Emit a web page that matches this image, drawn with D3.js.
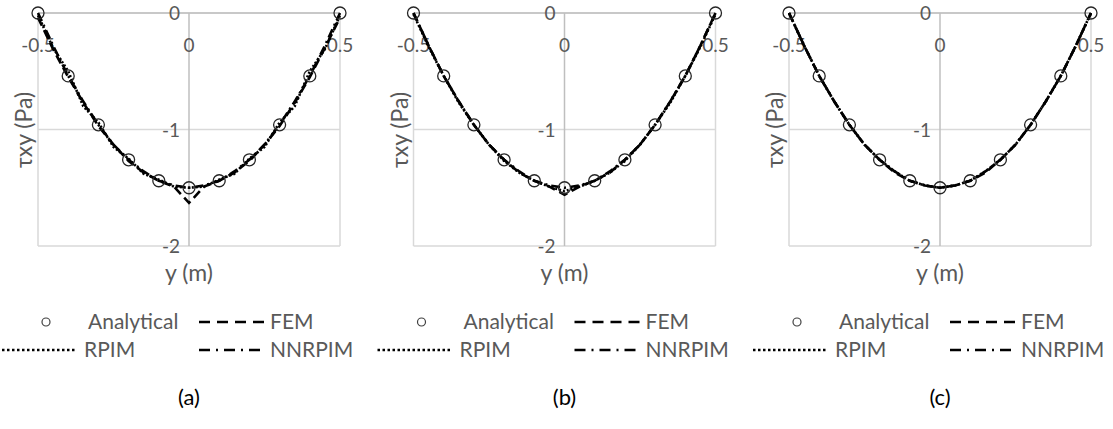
<!DOCTYPE html>
<html>
<head>
    <title>Shear stress profiles</title>
    <script src="https://cdnjs.cloudflare.com/ajax/libs/d3/7.8.5/d3.min.js" charset="utf-8"></script>
    <style>
        body { margin: 0; background: #fff; }
        text { font-family: "Lato", "Open Sans", sans-serif; fill: #595959; }
    </style>
</head>
<body>
    <div id="graph"></div>
<script>
    var width = 1113;
    var height = 429;

    // analytical points (circles)
    var yPoints = [-0.5, -0.4, -0.3, -0.2, -0.1, 0, 0.1, 0.2, 0.3, 0.4, 0.5];
    var analytical = [0, -0.54, -0.96, -1.26, -1.44, -1.5, -1.44, -1.26, -0.96, -0.54, 0];

    // numerical curves are sampled every 0.05 m
    var yLine = [-0.5, -0.45, -0.4, -0.35, -0.3, -0.25, -0.2, -0.15, -0.1, -0.05, 0,
                 0.05, 0.1, 0.15, 0.2, 0.25, 0.3, 0.35, 0.4, 0.45, 0.5];

    var femA    = [-0.04, -0.31, -0.55, -0.77, -0.97, -1.13, -1.27, -1.37, -1.44, -1.49, -1.63, -1.49, -1.44, -1.37, -1.27, -1.13, -0.97, -0.77, -0.55, -0.3, -0.04];
    var rpimA   = [-0.02, -0.3, -0.5, -0.8, -0.94, -1.15, -1.25, -1.38, -1.43, -1.49, -1.5, -1.49, -1.43, -1.38, -1.25, -1.15, -0.94, -0.8, -0.5, -0.31, -0.02];
    var nnrpimA = [0, -0.28, -0.54, -0.76, -0.96, -1.13, -1.26, -1.36, -1.44, -1.48, -1.5, -1.48, -1.44, -1.36, -1.26, -1.13, -0.96, -0.76, -0.54, -0.28, 0];

    var femB    = [0, -0.28, -0.54, -0.76, -0.96, -1.13, -1.26, -1.37, -1.44, -1.49, -1.56, -1.49, -1.44, -1.37, -1.26, -1.13, -0.96, -0.76, -0.54, -0.28, 0];
    var rpimB   = [-0.01, -0.29, -0.54, -0.77, -0.96, -1.13, -1.27, -1.37, -1.44, -1.49, -1.53, -1.49, -1.44, -1.37, -1.27, -1.13, -0.96, -0.77, -0.54, -0.29, -0.01];
    var nnrpimB = [0, -0.28, -0.54, -0.76, -0.96, -1.13, -1.26, -1.36, -1.44, -1.48, -1.5, -1.48, -1.44, -1.36, -1.26, -1.13, -0.96, -0.76, -0.54, -0.28, 0];

    var femC    = [0, -0.28, -0.54, -0.76, -0.96, -1.13, -1.26, -1.37, -1.44, -1.48, -1.5, -1.48, -1.44, -1.37, -1.26, -1.13, -0.96, -0.76, -0.54, -0.28, 0];
    var rpimC   = [0, -0.28, -0.54, -0.76, -0.96, -1.13, -1.26, -1.36, -1.44, -1.48, -1.5, -1.48, -1.44, -1.36, -1.26, -1.13, -0.96, -0.76, -0.54, -0.28, 0];
    var nnrpimC = [0, -0.28, -0.54, -0.76, -0.96, -1.13, -1.26, -1.36, -1.44, -1.48, -1.5, -1.48, -1.44, -1.36, -1.26, -1.13, -0.96, -0.76, -0.54, -0.28, 0];

    var xTicks = [-0.5, 0, 0.5];
    var yTicks = [0, -1, -2];
    var panelLabels = ["(a)", "(b)", "(c)"];
    var seriesNames = ["Analytical", "FEM", "RPIM", "NNRPIM"];

    var panels = [
        {fem: femA, rpim: rpimA, nnrpim: nnrpimA},
        {fem: femB, rpim: rpimB, nnrpim: nnrpimB},
        {fem: femC, rpim: rpimC, nnrpim: nnrpimC}
    ];

    var dashes = {fem: "9,5", rpim: "2,2", nnrpim: "9,4,2,4"};

    var svg = d3.select("#graph").append("svg")
            .attr("width", width)
            .attr("height", height);

    var plotTop = 13, plotBottom = 246, plotW = 302;

    panels.forEach(function (p, i) {
        var left = 38 + i * 375.5;
        var cx = left + plotW / 2;
        var g = svg.append("g");

        var x = d3.scaleLinear().domain([-0.5, 0.5]).range([left, left + plotW]);
        var y = d3.scaleLinear().domain([-2, 0]).range([plotBottom, plotTop]);

        // gridlines
        g.selectAll(".hg").data(yTicks).enter().append("line")
            .attr("x1", left).attr("x2", left + plotW)
            .attr("y1", function (d) { return y(d); })
            .attr("y2", function (d) { return y(d); })
            .attr("stroke", "#d9d9d9").attr("stroke-width", 1.5);
        g.selectAll(".vg").data(xTicks).enter().append("line")
            .attr("y1", plotTop).attr("y2", plotBottom)
            .attr("x1", function (d) { return x(d); })
            .attr("x2", function (d) { return x(d); })
            .attr("stroke", function (d) { return d == 0 ? "#bfbfbf" : "#d9d9d9"; })
            .attr("stroke-width", 1.5);
        g.append("line")
            .attr("x1", left).attr("x2", left + plotW)
            .attr("y1", y(0)).attr("y2", y(0))
            .attr("stroke", "#bfbfbf").attr("stroke-width", 1.5);

        // tick labels
        g.selectAll(".xl").data(xTicks).enter().append("text")
            .attr("x", function (d) { return x(d); })
            .attr("y", 52)
            .attr("text-anchor", "middle")
            .attr("font-size", "19px")
            .text(function (d) { return d; });
        g.selectAll(".yl").data(yTicks).enter().append("text")
            .attr("x", x(0) - 9)
            .attr("y", function (d) { return y(d) + 7; })
            .attr("text-anchor", "end")
            .attr("font-size", "19px")
            .text(function (d) { return d; });

        // axis titles
        g.append("text")
            .attr("transform", "translate(" + (left - 14) + "," + 130 + ") rotate(-90)")
            .attr("text-anchor", "middle")
            .attr("dy", "0.35em")
            .attr("font-size", "23px")
            .text("τxy (Pa)");
        g.append("text")
            .attr("x", cx).attr("y", 281)
            .attr("text-anchor", "middle")
            .attr("font-size", "23px")
            .text("y (m)");

        // curves
        ["fem", "rpim", "nnrpim"].forEach(function (k) {
            var line = d3.line()
                .x(function (d, j) { return x(yLine[j]); })
                .y(function (d) { return y(d); });
            g.append("path")
                .datum(p[k])
                .attr("d", line)
                .attr("fill", "none")
                .attr("stroke", "#000")
                .attr("stroke-width", 2.6)
                .attr("stroke-dasharray", dashes[k]);
        });

        // analytical circles
        g.selectAll(".pt").data(analytical).enter().append("circle")
            .attr("cx", function (d, j) { return x(yPoints[j]); })
            .attr("cy", function (d) { return y(d); })
            .attr("r", 6)
            .attr("fill", "none")
            .attr("stroke", "#262626")
            .attr("stroke-width", 1.3);

        // legend
        var r1 = 322, r2 = 350;
        g.append("circle").attr("cx", cx - 143).attr("cy", r1).attr("r", 4)
            .attr("fill", "none").attr("stroke", "#404040").attr("stroke-width", 1.2);
        g.append("text").attr("x", cx - 101).attr("y", r1 + 7).attr("font-size", "21px").text(seriesNames[0]);
        g.append("line").attr("x1", cx + 10).attr("x2", cx + 75).attr("y1", r1).attr("y2", r1)
            .attr("stroke", "#000").attr("stroke-width", 2.5).attr("stroke-dasharray", "11,7");
        g.append("text").attr("x", cx + 81).attr("y", r1 + 7).attr("font-size", "21px").text(seriesNames[1]);
        g.append("line").attr("x1", cx - 187).attr("x2", cx - 113).attr("y1", r2).attr("y2", r2)
            .attr("stroke", "#000").attr("stroke-width", 2.5).attr("stroke-dasharray", "2.5,2.5");
        g.append("text").attr("x", cx - 105).attr("y", r2 + 7).attr("font-size", "21px").text(seriesNames[2]);
        g.append("line").attr("x1", cx + 10).attr("x2", cx + 75).attr("y1", r2).attr("y2", r2)
            .attr("stroke", "#000").attr("stroke-width", 2.5).attr("stroke-dasharray", "11,6,2,6");
        g.append("text").attr("x", cx + 81).attr("y", r2 + 7).attr("font-size", "21px").text(seriesNames[3]);

        // panel label
        svg.append("text")
            .attr("x", cx).attr("y", 405)
            .attr("text-anchor", "middle")
            .attr("font-size", "22px")
            .style("fill", "#000")
            .text(panelLabels[i]);
    });
</script>
</body>
</html>
